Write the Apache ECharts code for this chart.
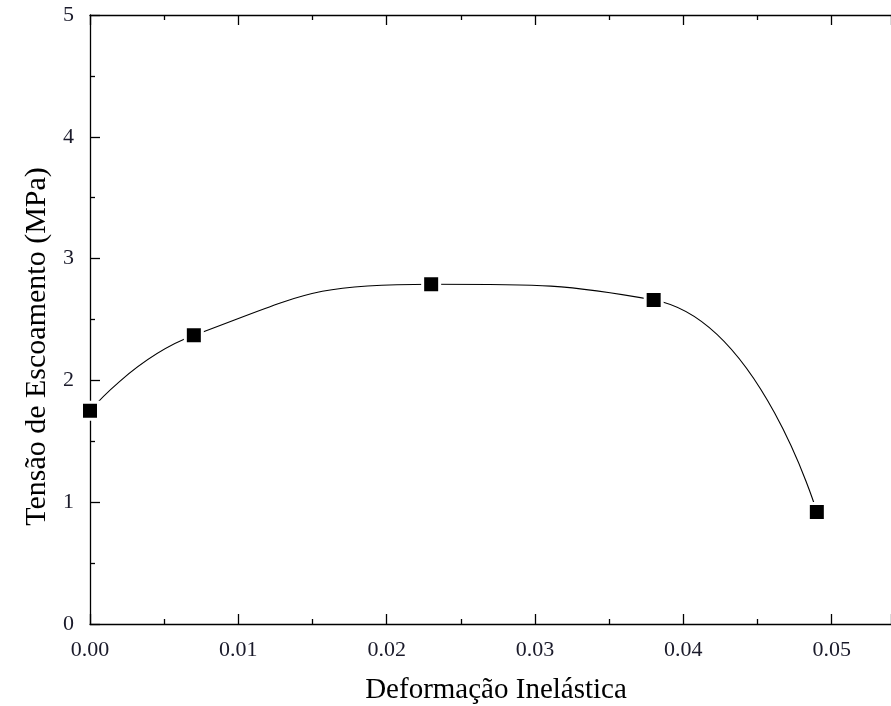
<!DOCTYPE html>
<html>
<head>
<meta charset="utf-8">
<script src="https://cdn.jsdelivr.net/npm/echarts@6/dist/echarts.min.js"></script>
<style>
html,body{margin:0;padding:0;background:#fff;}
#chart{width:891px;height:706px;}
</style>
</head>
<body>
<div id="chart"></div>
<script>
const strain = [0.000, 0.007, 0.023, 0.038, 0.049];
const stress = [1.75, 2.37, 2.79, 2.66, 0.92];
const xTitle = 'Deformação Inelástica';
const yTitle = 'Tensão de Escoamento (MPa)';

const FONT = '"Liberation Serif", "DejaVu Serif", serif';
const chart = echarts.init(document.getElementById('chart'));
const axisLineStyle = {color: '#000', width: 1.3};
const tickStyle = {color: '#000', width: 1.3};

chart.setOption({
  animation: false,
  backgroundColor: '#fff',
  grid: {left: 90, top: 15, right: 0, bottom: 82, containLabel: false, outerBoundsMode: 'none'},
  xAxis: [{
    type: 'value', position: 'bottom', min: 0, max: 0.054, interval: 0.01,
    name: xTitle, nameLocation: 'middle', nameGap: 52,
    nameTextStyle: {fontFamily: FONT, fontSize: 29, color: '#000', padding: [0, 0, 0, 11]},
    axisLine: {show: true, onZero: false, lineStyle: axisLineStyle},
    axisTick: {show: true, inside: true, length: 10, lineStyle: tickStyle},
    minorTick: {show: true, splitNumber: 2, length: 5, lineStyle: tickStyle},
    splitLine: {show: false},
    axisLabel: {
      fontFamily: FONT, fontSize: 22, color: '#1a1a2a', margin: 15,
      showMaxLabel: false,
      formatter: v => (Math.abs(v * 100 - Math.round(v * 100)) < 1e-6 ? v.toFixed(2) : '')
    }
  }, {
    type: 'value', position: 'top', min: 0, max: 0.054, interval: 0.01,
    axisLine: {show: true, onZero: false, lineStyle: axisLineStyle},
    axisTick: {show: true, inside: true, length: 10, lineStyle: tickStyle},
    minorTick: {show: true, splitNumber: 2, length: 5, lineStyle: tickStyle},
    splitLine: {show: false},
    axisLabel: {show: false}
  }],
  yAxis: [{
    type: 'value', position: 'left', min: 0, max: 5, interval: 1,
    name: yTitle, nameLocation: 'middle', nameGap: 36, nameRotate: 90,
    nameTextStyle: {fontFamily: FONT, fontSize: 30, color: '#000', padding: [0, 54, 0, 0]},
    axisLine: {show: true, onZero: false, lineStyle: axisLineStyle},
    axisTick: {show: true, inside: true, length: 10, lineStyle: tickStyle},
    minorTick: {show: true, splitNumber: 2, length: 5, lineStyle: tickStyle},
    splitLine: {show: false},
    axisLabel: {fontFamily: FONT, fontSize: 22, color: '#1a1a2a', margin: 16, formatter: v => String(v)}
  }],
  series: [{
    type: 'line',
    xAxisIndex: 0, yAxisIndex: 0,
    data: strain.map((x, i) => [x, stress[i]]),
    smooth: 0.5,
    clip: false,
    symbol: 'rect',
    symbolSize: 17,
    lineStyle: {color: '#000', width: 1.1},
    itemStyle: {color: '#000', borderColor: '#fff', borderWidth: 3},
    z: 3
  }]
});
</script>
</body>
</html>
